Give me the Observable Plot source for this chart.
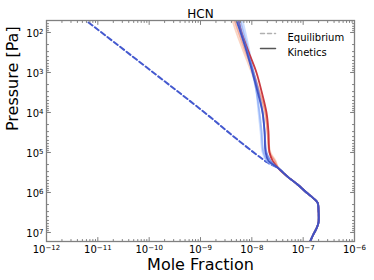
<!DOCTYPE html>
<html><head><meta charset="utf-8">
<script src="https://cdn.jsdelivr.net/npm/d3@7"></script>
<script src="https://cdn.jsdelivr.net/npm/@observablehq/plot@0.6"></script>
<style>body{margin:0;background:#fff;font-family:"DejaVu Sans",sans-serif}</style>
</head><body><div id="chart"></div>
<script>
// Pressure levels [Pa] of the upper (kinetics-dominated) profile
const upperP = [50, 100, 300, 1000, 3000, 1e4, 3e4, 1e5, 1.6e5, 2.5e5];
// Kinetics mole fractions at upperP, one array per run
const kinOrange   = [4.2e-9, 5.0e-9, 6.9e-9, 9.9e-9, 1.35e-8, 1.77e-8, 2.02e-8, 2.31e-8, 2.89e-8, 3.31e-8];
const kinSalmon   = [4.6e-9, 5.5e-9, 7.5e-9, 1.08e-8, 1.41e-8, 1.85e-8, 2.02e-8, 2.21e-8, 2.77e-8, 3.31e-8];
const kinPaleBlue = [6.6e-9, 7.5e-9, 9.0e-9, 1.08e-8, 1.23e-8, 1.35e-8, 1.48e-8, 1.62e-8, 1.93e-8, 3.31e-8];
const kinLightBlue= [6.0e-9, 6.9e-9, 8.6e-9, 1.03e-8, 1.23e-8, 1.41e-8, 1.55e-8, 1.69e-8, 2.02e-8, 3.31e-8];
const kinRed      = [5.5e-9, 6.3e-9, 8.6e-9, 1.23e-8, 1.55e-8, 1.93e-8, 2.11e-8, 2.21e-8, 2.53e-8, 3.31e-8];
const kinMidBlue  = [5.5e-9, 6.3e-9, 8.2e-9, 1.08e-8, 1.35e-8, 1.62e-8, 1.77e-8, 1.93e-8, 2.31e-8, 3.31e-8];
const kinDarkBlue = [5.0e-9, 6.0e-9, 7.9e-9, 1.03e-8, 1.29e-8, 1.62e-8, 1.77e-8, 1.85e-8, 2.11e-8, 3.31e-8];
// Deep common profile (kinetics = equilibrium)
const deepP = [4e5, 6.3e5, 1e6, 1.4e6, 1.8e6, 2.8e6, 5.6e6, 7.9e6, 1.1e7, 1.6e7];
const deepX = [4.95e-8, 7.76e-8, 1.16e-7, 1.59e-7, 1.91e-7, 1.99e-7, 1.99e-7, 1.82e-7, 1.59e-7, 1.39e-7];
// Equilibrium upper profile
const eqP = [56, 1000, 1e4, 5e4, 1.78e5, 2.5e5];
const eqX = [6.6e-12, 1.2e-10, 1.2e-9, 5.5e-9, 2.02e-8, 3.31e-8];

const runNames  = ["orange","salmon","paleblue","lightblue","red","midblue","darkblue"];
const runValues = [kinOrange, kinSalmon, kinPaleBlue, kinLightBlue, kinRed, kinMidBlue, kinDarkBlue];
const runColors = ["#f6b394","#ee8468","#a9c6fd","#7fa2f7","#c4262e","#5a78e0","#3d50c3"];
const runOpacity= [0.55, 0.65, 0.6, 0.7, 0.9, 0.8, 0.95];

const xMajor = [1e-12,1e-11,1e-10,1e-9,1e-8,1e-7,1e-6];
const yMajor = [1e2,1e3,1e4,1e5,1e6,1e7];

const fmt = d => "10^" + Math.round(Math.log10(d));

const xMinor = [], yMinor = [];
for (let e = -12; e < -6; e++) for (let m = 2; m <= 9; m++) xMinor.push(m * 10 ** e);
for (let e = 1; e < 8; e++) for (let m = 2; m <= 9; m++) { const v = m * 10 ** e; if (v > 50.1 && v < 1.68e7) yMinor.push(v); }

const rows = [];
runNames.forEach((name, i) => {
  upperP.forEach((p, j) => rows.push({run: name, p, x: runValues[i][j]}));
  deepP.forEach((p, j) => rows.push({run: name, p, x: deepX[j]}));
});
const eqRows = eqP.map((p, j) => ({p, x: eqX[j]})).concat(deepP.map((p, j) => ({p, x: deepX[j]})));

const tickShape = {draw(ctx, l) { ctx.moveTo(0, 0); ctx.lineTo(0, -l); }};
const gray = "#808080";
const ticks = (data, ch, frameAnchor, rotate, length) =>
  Plot.vector(data, {[ch]: d => d, frameAnchor, rotate, length, anchor: "start", shape: tickShape, stroke: gray, strokeWidth: 1});

const chart = Plot.plot({
  width: 374, height: 280,
  marginLeft: 46, marginRight: 20, marginTop: 20, marginBottom: 39,
  style: {fontFamily: "DejaVu Sans, sans-serif", background: "#fff", color: "#000"},
  x: {type: "log", domain: [1e-12, 1e-6], axis: null},
  y: {type: "log", domain: [50.1, 1.68e7], reverse: true, axis: null},
  marks: [
    Plot.line(eqRows, {x: "x", y: "p", stroke: "#4459cf", strokeWidth: 2, strokeDasharray: "5,3", curve: "catmull-rom", clip: true}),
    ...runNames.map((name, i) =>
      Plot.line(rows.filter(r => r.run === name), {x: "x", y: "p", stroke: runColors[i], strokeOpacity: runOpacity[i], strokeWidth: 1.8, curve: "catmull-rom", clip: true})
    ),
    Plot.frame({stroke: gray, strokeWidth: 1.3}),
    ticks(xMajor, "x", "bottom", 0, 4), ticks(xMinor, "x", "bottom", 0, 2),
    ticks(xMajor, "x", "top", 180, 4), ticks(xMinor, "x", "top", 180, 2),
    ticks(yMajor, "y", "left", 90, 4), ticks(yMinor, "y", "left", 90, 2),
    ticks(yMajor, "y", "right", -90, 4), ticks(yMinor, "y", "right", -90, 2),
    Plot.text(xMajor, {x: d => d, frameAnchor: "bottom", dy: 4, lineAnchor: "top", text: fmt, fontSize: 10, fill: "#000"}),
    Plot.text(yMajor, {y: d => d, frameAnchor: "left", dx: -3, dy: 1, textAnchor: "end", text: fmt, fontSize: 10, fill: "#000"}),
    Plot.text(["HCN"], {frameAnchor: "top", dy: -3, lineAnchor: "bottom", fontSize: 12, fill: "#000"}),
    Plot.text(["Mole Fraction"], {frameAnchor: "bottom", dy: 28, fontSize: 16, fill: "#000"}),
    Plot.text(["Pressure [Pa]"], {frameAnchor: "left", dx: -34, rotate: -90, fontSize: 16, fill: "#000"}),
    // legend
    Plot.vector(["Equilibrium"], {frameAnchor: "top-left", dx: 214, dy: 13, rotate: 90, length: 15, anchor: "start", shape: tickShape, stroke: "#b0b0b0", strokeWidth: 1.5, strokeDasharray: "4,3"}),
    Plot.vector(["Kinetics"], {frameAnchor: "top-left", dx: 214, dy: 28, rotate: 90, length: 15, anchor: "start", shape: tickShape, stroke: "#555555", strokeWidth: 1.5}),
    Plot.text(["Equilibrium"], {frameAnchor: "top-left", dx: 241, dy: 13, textAnchor: "start", fontSize: 10, fill: "#000"}),
    Plot.text(["Kinetics"], {frameAnchor: "top-left", dx: 241, dy: 28, textAnchor: "start", fontSize: 10, fill: "#000"})
  ]
});
// render exponents as superscript tspans (matplotlib mathtext style)
chart.querySelectorAll("text").forEach(t => {
  if (t.childElementCount) return;
  const m = /^10\^(-?\d+)$/.exec(t.textContent);
  if (!m) return;
  t.textContent = "";
  const ns = "http://www.w3.org/2000/svg";
  const a = document.createElementNS(ns, "tspan"); a.textContent = "10";
  const b = document.createElementNS(ns, "tspan"); b.textContent = m[1].replace("-", "\u2212");
  b.setAttribute("dy", "-0.42em"); b.setAttribute("font-size", "7");
  t.append(a, b);
});
document.getElementById("chart").append(chart);
</script>
</body></html>
